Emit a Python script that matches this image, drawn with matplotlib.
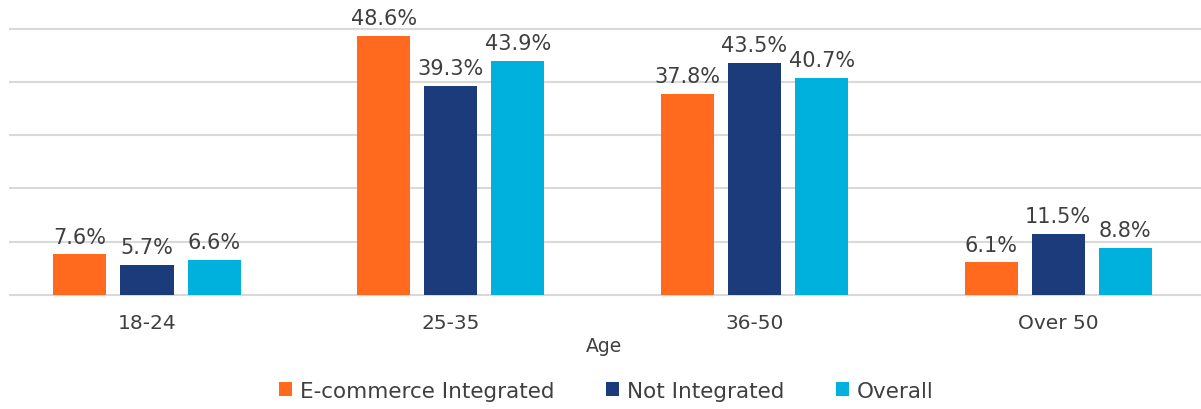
import numpy as np
import matplotlib
matplotlib.use("Agg")
import matplotlib.pyplot as plt
from matplotlib.patches import Patch

# share of respondents by age group (%)
age_groups = ["18-24", "25-35", "36-50", "Over 50"]
ecommerce = [7.6, 48.6, 37.8, 6.1]
not_integrated = [5.7, 39.3, 43.5, 11.5]
overall = [6.6, 43.9, 40.7, 8.8]

series_names = ["E-commerce Integrated", "Not Integrated", "Overall"]
colors = ["#FF6A1F", "#1B3B7B", "#00B1DD"]
text_color = "#3F3F3F"

plt.rcParams["font.family"] = ["DejaVu Sans"]

fig = plt.figure(figsize=(12.01, 4.10), dpi=100)
ax = fig.add_axes([10 / 1201, 1 - 296 / 410, 1 - 10 / 1201, (296 - 29.5) / 410])

x = np.arange(len(age_groups))
width = 0.175
step = 0.221

for i, (vals, col) in enumerate(zip([ecommerce, not_integrated, overall], colors)):
    pos = x + (i - 1) * step
    bars = ax.bar(pos, vals, width, color=col, zorder=3)
    for b, v in zip(bars, vals):
        ax.annotate(f"{v:.1f}%", (b.get_x() + b.get_width() / 2, v),
                    xytext=(0, 8.5), textcoords="offset points",
                    ha="center", va="baseline", fontsize=15,
                    color=text_color, annotation_clip=False)

ax.set_xlim(-0.451, 3.47)
ax.set_ylim(0, 50)
ax.set_yticks(np.arange(0, 51, 10))
ax.yaxis.grid(True, color="#D9D9D9", linewidth=1.5, zorder=0)
for gl in ax.get_ygridlines():
    gl.set_clip_on(False)
ax.tick_params(axis="y", left=False, labelleft=False)
ax.set_xticks(x)
ax.set_xticklabels(age_groups, fontsize=14.5, color=text_color)
ax.tick_params(axis="x", length=0, pad=13)
for s in ax.spines.values():
    s.set_visible(False)

fig.text(604 / 1201, 1 - 347 / 410, "Age", ha="center", va="center",
         fontsize=13.5, color=text_color)

handles = [Patch(facecolor=c, edgecolor="none") for c in colors]
fig.legend(handles, series_names, loc="center", ncol=3,
           bbox_to_anchor=(606 / 1201, 1 - 392 / 410), frameon=False,
           fontsize=15.5, labelcolor=text_color, handlelength=0.62,
           handleheight=0.62, handletextpad=0.35, columnspacing=2.4)

fig.savefig("out.png", dpi=100, facecolor="white")
